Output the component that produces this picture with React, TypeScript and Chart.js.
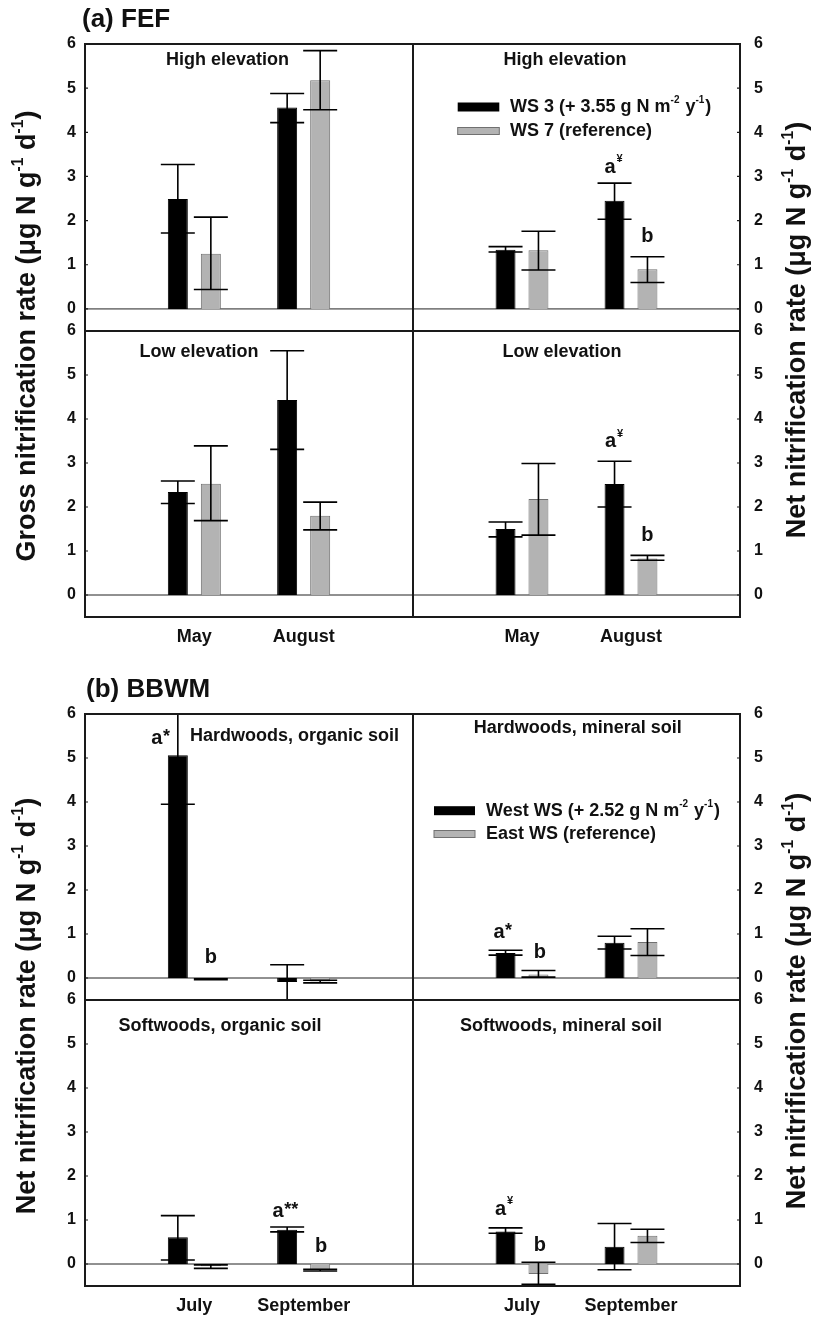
import React, { useEffect, useRef } from 'react';
import { Chart, registerables } from 'chart.js';

Chart.register(...registerables);

const FONT = '"Liberation Sans", Arial, Helvetica, sans-serif';

// ---------- categories, ticks, legends ----------
const categoriesFEF = ['May', 'August'];
const categoriesBBWM = ['July', 'September'];
const yTickValues = [0, 1, 2, 3, 4, 5, 6];
const legendFEF = ['WS 3 (+ 3.55 g N m^{-2} y^{-1})', 'WS 7 (reference)'];
const legendBBWM = ['West WS (+ 2.52 g N m^{-2} y^{-1})', 'East WS (reference)'];

// ---------- (a) FEF: gross nitrification, high elevation ----------
const fefGrossHighWS3 = [2.49, 4.56];
const fefGrossHighWS3Lo = [1.72, 4.22];
const fefGrossHighWS3Hi = [3.27, 4.88];
const fefGrossHighWS7 = [1.25, 5.18];
const fefGrossHighWS7Lo = [0.44, 4.51];
const fefGrossHighWS7Hi = [2.08, 5.85];

// ---------- (a) FEF: net nitrification, high elevation ----------
const fefNetHighWS3 = [1.34, 2.45];
const fefNetHighWS3Lo = [1.29, 2.03];
const fefNetHighWS3Hi = [1.41, 2.85];
const fefNetHighWS7 = [1.33, 0.9];
const fefNetHighWS7Lo = [0.88, 0.6];
const fefNetHighWS7Hi = [1.76, 1.18];

// ---------- (a) FEF: gross nitrification, low elevation ----------
const fefGrossLowWS3 = [2.34, 4.43];
const fefGrossLowWS3Lo = [2.08, 3.31];
const fefGrossLowWS3Hi = [2.59, 5.55];
const fefGrossLowWS7 = [2.53, 1.8];
const fefGrossLowWS7Lo = [1.69, 1.48];
const fefGrossLowWS7Hi = [3.39, 2.11];

// ---------- (a) FEF: net nitrification, low elevation ----------
const fefNetLowWS3 = [1.5, 2.52];
const fefNetLowWS3Lo = [1.32, 2.0];
const fefNetLowWS3Hi = [1.66, 3.04];
const fefNetLowWS7 = [2.18, 0.83];
const fefNetLowWS7Lo = [1.36, 0.79];
const fefNetLowWS7Hi = [2.99, 0.9];

// ---------- (b) BBWM: hardwoods, organic soil ----------
const hwOrgWest = [5.06, -0.09];
const hwOrgWestLo = [3.95, -0.55];
const hwOrgWestHi = [6.17, 0.3];
const hwOrgEast = [-0.03, -0.08];
const hwOrgEastLo = [-0.04, -0.11];
const hwOrgEastHi = [-0.02, -0.05];

// ---------- (b) BBWM: hardwoods, mineral soil ----------
const hwMinWest = [0.57, 0.8];
const hwMinWestLo = [0.52, 0.66];
const hwMinWestHi = [0.63, 0.95];
const hwMinEast = [0.08, 0.82];
const hwMinEastLo = [0.02, 0.51];
const hwMinEastHi = [0.17, 1.12];

// ---------- (b) BBWM: softwoods, organic soil ----------
const swOrgWest = [0.61, 0.78];
const swOrgWestLo = [0.09, 0.73];
const swOrgWestHi = [1.1, 0.84];
const swOrgEast = [-0.05, -0.14];
const swOrgEastLo = [-0.1, -0.16];
const swOrgEastHi = [-0.02, -0.12];

// ---------- (b) BBWM: softwoods, mineral soil ----------
const swMinWest = [0.74, 0.39];
const swMinWestLo = [0.7, -0.13];
const swMinWestHi = [0.82, 0.92];
const swMinEast = [-0.23, 0.64];
const swMinEastLo = [-0.46, 0.49];
const swMinEastHi = [0.04, 0.79];

// ---------- layout & panel configuration ----------
type Note = { ds: number; idx: number; y: number; text: string; sup?: string; dx: number };
type PanelCfg = {
  left: number; top: number; width: number; height: number;
  side: 'left' | 'right'; cats: string[]; showX: boolean;
  s0: number[]; lo0: number[]; hi0: number[];
  s1: number[]; lo1: number[]; hi1: number[];
  title: string; tdx: number; tdy: number;
  notes: Note[];
  legend?: { labels: string[]; x0: number; x1: number; ty: number[]; tx: number };
};

const LEFT_X = 85, LEFT_W = 328, RIGHT_X = 413, RIGHT_W = 327;

const panels: PanelCfg[] = [
  {
    left: LEFT_X, top: 44, width: LEFT_W, height: 287, side: 'left', cats: categoriesFEF, showX: false,
    s0: fefGrossHighWS3, lo0: fefGrossHighWS3Lo, hi0: fefGrossHighWS3Hi,
    s1: fefGrossHighWS7, lo1: fefGrossHighWS7Lo, hi1: fefGrossHighWS7Hi,
    title: 'High elevation', tdx: 142.5, tdy: 16, notes: [],
  },
  {
    left: RIGHT_X, top: 44, width: RIGHT_W, height: 287, side: 'right', cats: categoriesFEF, showX: false,
    s0: fefNetHighWS3, lo0: fefNetHighWS3Lo, hi0: fefNetHighWS3Hi,
    s1: fefNetHighWS7, lo1: fefNetHighWS7Lo, hi1: fefNetHighWS7Hi,
    title: 'High elevation', tdx: 152, tdy: 16,
    notes: [
      { ds: 0, idx: 1, y: 3.21, text: 'a', sup: '¥', dx: -4.5 },
      { ds: 1, idx: 1, y: 1.63, text: 'b', dx: 0 },
    ],
    legend: { labels: legendFEF, x0: 44.7, x1: 86.3, ty: [63, 87], tx: 97 },
  },
  {
    left: LEFT_X, top: 331, width: LEFT_W, height: 286, side: 'left', cats: categoriesFEF, showX: true,
    s0: fefGrossLowWS3, lo0: fefGrossLowWS3Lo, hi0: fefGrossLowWS3Hi,
    s1: fefGrossLowWS7, lo1: fefGrossLowWS7Lo, hi1: fefGrossLowWS7Hi,
    title: 'Low elevation', tdx: 114, tdy: 20.7, notes: [],
  },
  {
    left: RIGHT_X, top: 331, width: RIGHT_W, height: 286, side: 'right', cats: categoriesFEF, showX: true,
    s0: fefNetLowWS3, lo0: fefNetLowWS3Lo, hi0: fefNetLowWS3Hi,
    s1: fefNetLowWS7, lo1: fefNetLowWS7Lo, hi1: fefNetLowWS7Hi,
    title: 'Low elevation', tdx: 149, tdy: 20.7,
    notes: [
      { ds: 0, idx: 1, y: 3.48, text: 'a', sup: '¥', dx: -4 },
      { ds: 1, idx: 1, y: 1.36, text: 'b', dx: 0 },
    ],
  },
  {
    left: LEFT_X, top: 714, width: LEFT_W, height: 286, side: 'left', cats: categoriesBBWM, showX: false,
    s0: hwOrgWest, lo0: hwOrgWestLo, hi0: hwOrgWestHi,
    s1: hwOrgEast, lo1: hwOrgEastLo, hi1: hwOrgEastHi,
    title: 'Hardwoods, organic soil', tdx: 209.5, tdy: 22.5,
    notes: [
      { ds: 0, idx: 0, y: 5.44, text: 'a', sup: '*', dx: -21 },
      { ds: 1, idx: 0, y: 0.46, text: 'b', dx: 0 },
    ],
  },
  {
    left: RIGHT_X, top: 714, width: RIGHT_W, height: 286, side: 'right', cats: categoriesBBWM, showX: false,
    s0: hwMinWest, lo0: hwMinWestLo, hi0: hwMinWestHi,
    s1: hwMinEast, lo1: hwMinEastLo, hi1: hwMinEastHi,
    title: 'Hardwoods, mineral soil', tdx: 164.7, tdy: 14,
    notes: [
      { ds: 0, idx: 0, y: 1.03, text: 'a', sup: '*', dx: -6.5 },
      { ds: 1, idx: 0, y: 0.57, text: 'b', dx: 1.5 },
    ],
    legend: { labels: legendBBWM, x0: 21, x1: 62, ty: [96.7, 120], tx: 73 },
  },
  {
    left: LEFT_X, top: 1000, width: LEFT_W, height: 286, side: 'left', cats: categoriesBBWM, showX: true,
    s0: swOrgWest, lo0: swOrgWestLo, hi0: swOrgWestHi,
    s1: swOrgEast, lo1: swOrgEastLo, hi1: swOrgEastHi,
    title: 'Softwoods, organic soil', tdx: 135, tdy: 26,
    notes: [
      { ds: 0, idx: 1, y: 1.19, text: 'a', sup: '**', dx: -9 },
      { ds: 1, idx: 1, y: 0.4, text: 'b', dx: 1 },
    ],
  },
  {
    left: RIGHT_X, top: 1000, width: RIGHT_W, height: 286, side: 'right', cats: categoriesBBWM, showX: true,
    s0: swMinWest, lo0: swMinWestLo, hi0: swMinWestHi,
    s1: swMinEast, lo1: swMinEastLo, hi1: swMinEastHi,
    title: 'Softwoods, mineral soil', tdx: 148, tdy: 26,
    notes: [
      { ds: 0, idx: 0, y: 1.25, text: 'a', sup: '¥', dx: -5 },
      { ds: 1, idx: 0, y: 0.43, text: 'b', dx: 1.5 },
    ],
  },
];

// ---------- rich text helpers ----------
function parseRich(s: string) {
  const parts: { t: string; sup: boolean }[] = [];
  const re = /\^\{([^}]*)\}/g;
  let last = 0;
  let m: RegExpExecArray | null;
  while ((m = re.exec(s))) {
    if (m.index > last) parts.push({ t: s.slice(last, m.index), sup: false });
    parts.push({ t: m[1], sup: true });
    last = re.lastIndex;
  }
  if (last < s.length) parts.push({ t: s.slice(last), sup: false });
  return parts;
}

function drawRich(ctx: CanvasRenderingContext2D, s: string, x: number, y: number, size: number) {
  let cx = x;
  ctx.textAlign = 'left';
  ctx.textBaseline = 'middle';
  for (const p of parseRich(s)) {
    ctx.font = `bold ${p.sup ? Math.round(size * 0.58) : size}px ${FONT}`;
    ctx.fillText(p.t, cx, p.sup ? y - size * 0.36 : y);
    cx += ctx.measureText(p.t).width + (p.sup ? 1 : 0);
  }
}

const RichHTML = ({ s }: { s: string }) => (
  <>
    {parseRich(s).map((p, i) =>
      p.sup ? (
        <span key={i} style={{ fontSize: '0.58em', position: 'relative', top: '-0.75em' }}>{p.t}</span>
      ) : (
        <span key={i}>{p.t}</span>
      )
    )}
  </>
);

const BLACK = '#000000';
const GRAY = '#b3b3b3';
const GRAY_BORDER = '#707070';
const PAD_T = 14;
const X_AXIS_H = 34;

function Panel({ cfg }: { cfg: PanelCfg }) {
  const ref = useRef<HTMLCanvasElement | null>(null);
  const isLeft = cfg.side === 'left';
  const canvasLeft = isLeft ? 0 : cfg.left - 4;
  const canvasW = isLeft ? cfg.left + cfg.width + 4 : 813 - canvasLeft;
  const yAxisW = isLeft ? cfg.left : canvasW - 4 - cfg.width;
  const canvasTop = cfg.top - PAD_T;
  const padB = cfg.showX ? 0 : 6;
  const canvasH = PAD_T + cfg.height + (cfg.showX ? X_AXIS_H : 0) + padB;

  useEffect(() => {
    const canvas = ref.current;
    if (!canvas) return;
    const labels = ['', ...cfg.cats, ''];
    const deco = {
      id: 'panelDeco',
      beforeDatasetsDraw(chart: any) {
        const { ctx, chartArea: a, scales } = chart;
        const y0 = scales.y.getPixelForValue(0);
        ctx.save();
        ctx.strokeStyle = '#222';
        ctx.lineWidth = 1;
        ctx.beginPath();
        ctx.moveTo(a.left, y0);
        ctx.lineTo(a.right, y0);
        ctx.stroke();
        ctx.restore();
      },
      afterDatasetsDraw(chart: any) {
        const { ctx, chartArea: a, scales } = chart;
        const ys = scales.y;
        // error bars
        ctx.save();
        ctx.beginPath();
        ctx.rect(a.left, a.top, a.right - a.left, a.bottom - a.top);
        ctx.clip();
        ctx.strokeStyle = '#000';
        ctx.lineWidth = 1.6;
        const errs = [
          [cfg.lo0, cfg.hi0],
          [cfg.lo1, cfg.hi1],
        ];
        errs.forEach(([lo, hi], di) => {
          const meta = chart.getDatasetMeta(di);
          cfg.cats.forEach((_, i) => {
            const el = meta.data[i + 1];
            if (!el) return;
            const x = el.x;
            const yl = ys.getPixelForValue(lo[i]);
            const yh = ys.getPixelForValue(hi[i]);
            ctx.beginPath();
            ctx.moveTo(x, yl);
            ctx.lineTo(x, yh);
            ctx.moveTo(x - 17, yl);
            ctx.lineTo(x + 17, yl);
            ctx.moveTo(x - 17, yh);
            ctx.lineTo(x + 17, yh);
            ctx.stroke();
          });
        });
        ctx.restore();

        // frame
        ctx.save();
        ctx.strokeStyle = '#1a1a1a';
        ctx.lineWidth = 2;
        ctx.strokeRect(a.left, a.top, a.right - a.left, a.bottom - a.top);
        // tick marks (inside)
        ctx.lineWidth = 1.2;
        ctx.beginPath();
        yTickValues.forEach((v) => {
          const py = ys.getPixelForValue(v);
          if (isLeft) {
            ctx.moveTo(a.left, py);
            ctx.lineTo(a.left + 3, py);
          } else {
            ctx.moveTo(a.right, py);
            ctx.lineTo(a.right - 3, py);
          }
        });
        ctx.stroke();

        // panel title
        ctx.fillStyle = '#111';
        ctx.font = `bold 18px ${FONT}`;
        ctx.textAlign = 'center';
        ctx.textBaseline = 'middle';
        ctx.fillText(cfg.title, a.left + cfg.tdx, a.top + cfg.tdy);

        // significance notes
        cfg.notes.forEach((n) => {
          const el = chart.getDatasetMeta(n.ds).data[n.idx + 1];
          const x = el.x + n.dx;
          const py = ys.getPixelForValue(n.y);
          ctx.font = `bold 20px ${FONT}`;
          ctx.textAlign = 'center';
          ctx.textBaseline = 'middle';
          ctx.fillText(n.text, x, py);
          const w = ctx.measureText(n.text).width;
          if (n.sup) {
            ctx.textAlign = 'left';
            if (n.sup.includes('*')) {
              ctx.font = `bold 18px ${FONT}`;
              ctx.fillText(n.sup, x + w / 2 + 0.5, py - 2);
            } else {
              ctx.font = `bold 11px ${FONT}`;
              ctx.fillText(n.sup, x + w / 2 + 1, py - 8);
            }
          }
        });

        // legend
        if (cfg.legend) {
          const L = cfg.legend;
          const sx = a.left + L.x0;
          const sw = L.x1 - L.x0;
          ctx.fillStyle = BLACK;
          ctx.fillRect(sx, a.top + L.ty[0] - 4.5, sw, 9);
          ctx.fillStyle = GRAY;
          ctx.fillRect(sx, a.top + L.ty[1] - 3.5, sw, 7);
          ctx.strokeStyle = GRAY_BORDER;
          ctx.lineWidth = 1;
          ctx.strokeRect(sx, a.top + L.ty[1] - 3.5, sw, 7);
          ctx.fillStyle = '#111';
          L.labels.forEach((lab, i) => drawRich(ctx, lab, a.left + L.tx, a.top + L.ty[i], 18));
        }
        ctx.restore();
      },
    };

    const zeroPad = (s: any) => {
      s.paddingTop = 0;
      s.paddingBottom = 0;
      s.paddingLeft = 0;
      s.paddingRight = 0;
    };

    const chart = new Chart(canvas, {
      type: 'bar',
      data: {
        labels,
        datasets: [
          {
            label: cfg.legend ? cfg.legend.labels[0] : 'treated',
            data: [null, ...cfg.s0, null],
            backgroundColor: BLACK,
            borderColor: BLACK,
            borderWidth: 1,
            categoryPercentage: 0.604,
            barPercentage: 0.606,
          },
          {
            label: cfg.legend ? cfg.legend.labels[1] : 'reference',
            data: [null, ...cfg.s1, null],
            backgroundColor: GRAY,
            borderColor: GRAY_BORDER,
            borderWidth: 1,
            categoryPercentage: 0.604,
            barPercentage: 0.606,
          },
        ],
      },
      options: {
        animation: false,
        responsive: false,
        maintainAspectRatio: false,
        events: [],
        layout: {
          padding: { left: isLeft ? 0 : 4, right: isLeft ? 4 : 0, top: PAD_T, bottom: padB },
        },
        plugins: {
          legend: { display: false },
          tooltip: { enabled: false },
          title: { display: false },
        },
        scales: {
          x: {
            type: 'category',
            offset: false,
            display: cfg.showX,
            grid: { display: false, drawTicks: false },
            border: { display: false },
            ticks: {
              autoSkip: false,
              maxRotation: 0,
              padding: 9,
              color: '#111',
              font: { family: FONT, size: 18, weight: 'bold' },
            },
            afterFit: (s: any) => {
              s.height = cfg.showX ? X_AXIS_H : 0;
              zeroPad(s);
            },
          },
          y: {
            position: cfg.side,
            min: -0.5,
            max: 6,
            grid: { display: false, drawTicks: false },
            border: { display: false },
            ticks: {
              padding: isLeft ? 9 : 14,
              color: '#111',
              font: { family: FONT, size: 16, weight: 'bold' },
            },
            afterBuildTicks: (s: any) => {
              s.ticks = yTickValues.map((v) => ({ value: v }));
            },
            afterFit: (s: any) => {
              s.width = yAxisW;
              zeroPad(s);
            },
          },
        },
      } as any,
      plugins: [deco],
    });
    return () => chart.destroy();
  }, []);

  return (
    <canvas
      ref={ref}
      width={canvasW}
      height={canvasH}
      style={{ position: 'absolute', left: canvasLeft, top: canvasTop, width: canvasW, height: canvasH }}
    />
  );
}

const axisTitles = [
  { x: 28, y: 336, s: 'Gross nitrification rate (μg N g^{-1} d^{-1})' },
  { x: 798, y: 330, s: 'Net nitrification rate (μg N g^{-1} d^{-1})' },
  { x: 28, y: 1006, s: 'Net nitrification rate (μg N g^{-1} d^{-1})' },
  { x: 798, y: 1001, s: 'Net nitrification rate (μg N g^{-1} d^{-1})' },
];

const sectionTitles = [
  { x: 82, y: 17.5, s: '(a) FEF' },
  { x: 86, y: 688, s: '(b) BBWM' },
];

export default function App() {
  return (
    <div style={{ position: 'absolute', left: 0, top: 0, width: 813, height: 1319, background: '#fff', overflow: 'hidden' }}>
      {panels.map((p, i) => (
        <Panel key={i} cfg={p} />
      ))}
      {sectionTitles.map((t, i) => (
        <div
          key={'s' + i}
          style={{
            position: 'absolute', left: t.x, top: t.y, transform: 'translateY(-50%)',
            font: `bold 26px ${FONT}`, lineHeight: '30px', color: '#111', whiteSpace: 'nowrap',
          }}
        >
          {t.s}
        </div>
      ))}
      {axisTitles.map((t, i) => (
        <div
          key={'a' + i}
          style={{
            position: 'absolute', left: t.x, top: t.y,
            transform: 'translate(-50%, -50%) rotate(-90deg)',
            font: `bold 27px ${FONT}`, lineHeight: '32px', color: '#111', whiteSpace: 'nowrap',
          }}
        >
          <RichHTML s={t.s} />
        </div>
      ))}
    </div>
  );
}
